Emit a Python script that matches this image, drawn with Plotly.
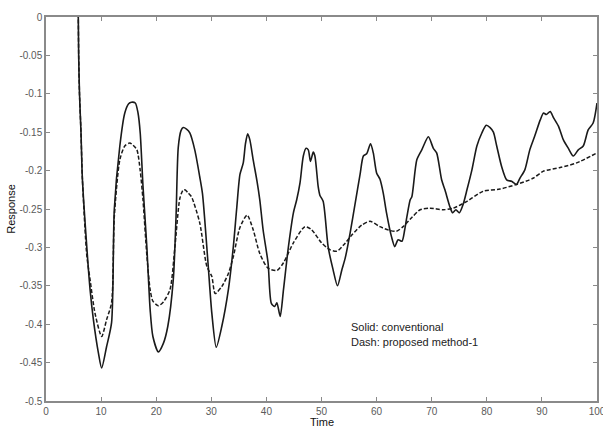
import plotly.graph_objects as go

# Conventional controller response (solid)
time_conv = [5.8, 5.86, 5.93, 6.08, 6.35, 6.6, 7.4, 8.0, 8.6, 9.5, 10.1, 11.0, 11.9, 12.4,
             13.4, 14.3, 15.0, 15.5, 16.2, 16.7, 17.1, 17.6, 18.3, 18.9, 19.4, 20.4, 21.3,
             22.1, 23.1, 23.6, 24.0, 24.5, 24.9, 25.5, 26.1, 27.0, 27.9, 28.4, 29.4, 30.1,
             30.9, 31.9, 33.1, 34.0, 34.6, 35.2, 35.8, 36.2, 36.6, 37.0, 37.6, 38.3, 38.8,
             39.4, 40.3, 40.9, 41.5, 41.9, 42.5, 43.1, 44.0, 44.9, 45.5, 46.1, 46.7, 47.2,
             47.6, 48.0, 48.5, 48.8, 49.4, 49.7, 50.3, 51.2, 52.1, 52.9, 53.7, 54.3, 55.2,
             56.1, 57.0, 57.6, 58.2, 58.9, 59.4, 60.0, 60.6, 61.2, 61.8, 62.7, 63.3, 63.9,
             64.6, 65.1, 65.5, 66.1, 66.4, 67.3, 68.2, 69.4, 70.3, 70.9, 71.8, 72.4, 73.3,
             73.8, 74.4, 75.0, 75.7, 76.4, 77.3, 78.2, 79.1, 79.9, 80.6, 81.2, 81.8, 82.7,
             83.6, 84.5, 85.4, 86.0, 86.9, 87.8, 88.7, 89.7, 90.3, 90.8, 91.5, 92.1, 93.0,
             93.9, 94.8, 95.7, 96.6, 97.5, 98.4, 99.3, 100.0]
resp_conv = [0.02, 0.0, -0.05, -0.10, -0.15, -0.21, -0.299, -0.355, -0.394, -0.437, -0.457,
             -0.429, -0.398, -0.25, -0.168, -0.125, -0.113, -0.111, -0.112, -0.125, -0.151,
             -0.22, -0.299, -0.381, -0.416, -0.436, -0.425, -0.403, -0.342, -0.26, -0.17,
             -0.148, -0.144, -0.146, -0.151, -0.173, -0.208, -0.23, -0.32, -0.386, -0.43,
             -0.403, -0.355, -0.299, -0.25, -0.205, -0.19, -0.165, -0.152, -0.16, -0.186,
             -0.214, -0.238, -0.277, -0.32, -0.373, -0.377, -0.372, -0.39, -0.355, -0.299,
             -0.255, -0.238, -0.216, -0.181, -0.171, -0.173, -0.188, -0.176, -0.181, -0.221,
             -0.232, -0.24, -0.299, -0.329, -0.35, -0.329, -0.314, -0.281, -0.243, -0.205,
             -0.181, -0.178, -0.165, -0.177, -0.203, -0.211, -0.229, -0.255, -0.286, -0.299,
             -0.29, -0.292, -0.277, -0.26, -0.238, -0.234, -0.186, -0.173, -0.156, -0.171,
             -0.177, -0.212, -0.225, -0.247, -0.255, -0.251, -0.255, -0.244, -0.225, -0.199,
             -0.168, -0.151, -0.141, -0.144, -0.150, -0.168, -0.195, -0.212, -0.214, -0.218,
             -0.21, -0.199, -0.173, -0.155, -0.134, -0.125, -0.127, -0.123, -0.131, -0.142,
             -0.160, -0.171, -0.181, -0.173, -0.168, -0.147, -0.138, -0.112]

# Proposed method-1 response (dashed)
time_prop = [5.8, 5.86, 5.93, 6.08, 6.35, 6.6, 7.4, 8.0, 8.9, 10.1, 11.0, 11.9, 12.4, 13.4,
             14.3, 15.2, 15.8, 16.5, 17.1, 17.6, 18.3, 18.9, 19.4, 20.4, 21.3, 22.5, 23.4,
             24.3, 24.9, 25.2, 25.8, 26.4, 27.9, 29.2, 30.1, 30.7, 31.9, 33.1, 34.0, 35.2,
             36.5, 37.6, 38.8, 40.3, 41.9, 43.1, 44.9, 47.0, 48.2, 50.0, 51.5, 52.8, 54.0,
             55.5, 57.3, 58.8, 60.6, 62.4, 63.6, 64.8, 66.4, 67.9, 69.7, 72.1, 73.9, 76.4,
             79.3, 82.4, 85.4, 88.4, 90.2, 93.3, 96.3, 100.0]
resp_prop = [0.02, 0.0, -0.05, -0.10, -0.15, -0.21, -0.31, -0.342, -0.386, -0.416, -0.394,
             -0.372, -0.26, -0.186, -0.168, -0.164, -0.167, -0.173, -0.2, -0.238, -0.31,
             -0.355, -0.37, -0.376, -0.371, -0.355, -0.299, -0.236, -0.225, -0.225, -0.229,
             -0.234, -0.268, -0.325, -0.338, -0.36, -0.351, -0.334, -0.312, -0.274, -0.258,
             -0.277, -0.308, -0.327, -0.33, -0.32, -0.294, -0.273, -0.277, -0.294, -0.303,
             -0.305, -0.297, -0.284, -0.271, -0.266, -0.273, -0.278, -0.279, -0.273, -0.261,
             -0.251, -0.249, -0.251, -0.249, -0.24, -0.227, -0.224, -0.218, -0.21, -0.201,
             -0.196, -0.19, -0.177]

x_ticks = [0, 10, 20, 30, 40, 50, 60, 70, 80, 90, 100]
y_ticks = [0, -0.05, -0.1, -0.15, -0.2, -0.25, -0.3, -0.35, -0.4, -0.45, -0.5]
y_ticklabels = ["0", "-0.05", "-0.1", "-0.15", "-0.2", "-0.25", "-0.3", "-0.35", "-0.4",
                "-0.45", "-0.5"]

FONT = "Liberation Sans, Arial"

fig = go.Figure()
fig.add_trace(go.Scatter(x=time_conv, y=resp_conv, mode="lines",
                         line=dict(color="#1a1a1a", width=1.6, shape="spline", smoothing=0.7),
                         showlegend=False))
fig.add_trace(go.Scatter(x=time_prop, y=resp_prop, mode="lines",
                         line=dict(color="#1a1a1a", width=1.5, dash="4px,2px",
                                   shape="spline", smoothing=0.7),
                         showlegend=False))

fig.add_annotation(x=55.0, y=-0.4035, xref="x", yref="y", text="Solid: conventional",
                   showarrow=False, xanchor="left", yanchor="middle",
                   font=dict(family=FONT, size=11, color="#222"))
fig.add_annotation(x=55.0, y=-0.4235, xref="x", yref="y", text="Dash: proposed method-1",
                   showarrow=False, xanchor="left", yanchor="middle",
                   font=dict(family=FONT, size=11, color="#222"))

# x-axis title, placed just beneath the tick labels
fig.add_annotation(x=0.5, y=0, xref="paper", yref="paper", text="Time", showarrow=False,
                   xanchor="center", yanchor="middle", yshift=-20.5, borderpad=0,
                   font=dict(family=FONT, size=11, color="#111"))

axis_common = dict(showline=True, linecolor="#8a8a8a", linewidth=1.5, mirror="ticks",
                   ticks="inside", ticklen=4, tickcolor="#8a8a8a", tickwidth=1,
                   showgrid=False, zeroline=False, ticklabeloverflow="allow",
                   tickfont=dict(family=FONT, size=10, color="#5a5a5a"))

fig.update_xaxes(range=[0, 100], tickvals=x_ticks, ticktext=[str(v) for v in x_ticks],
                 automargin=False, **axis_common)
fig.update_yaxes(range=[-0.5, 0], tickvals=y_ticks, ticktext=y_ticklabels,
                 title=dict(text="Response", standoff=2,
                            font=dict(family=FONT, size=11, color="#111")),
                 automargin=False, **axis_common)

fig.update_layout(width=603, height=427, margin=dict(l=46, r=6, t=17, b=26),
                  plot_bgcolor="white", paper_bgcolor="white")

fig.write_html("out.html")
